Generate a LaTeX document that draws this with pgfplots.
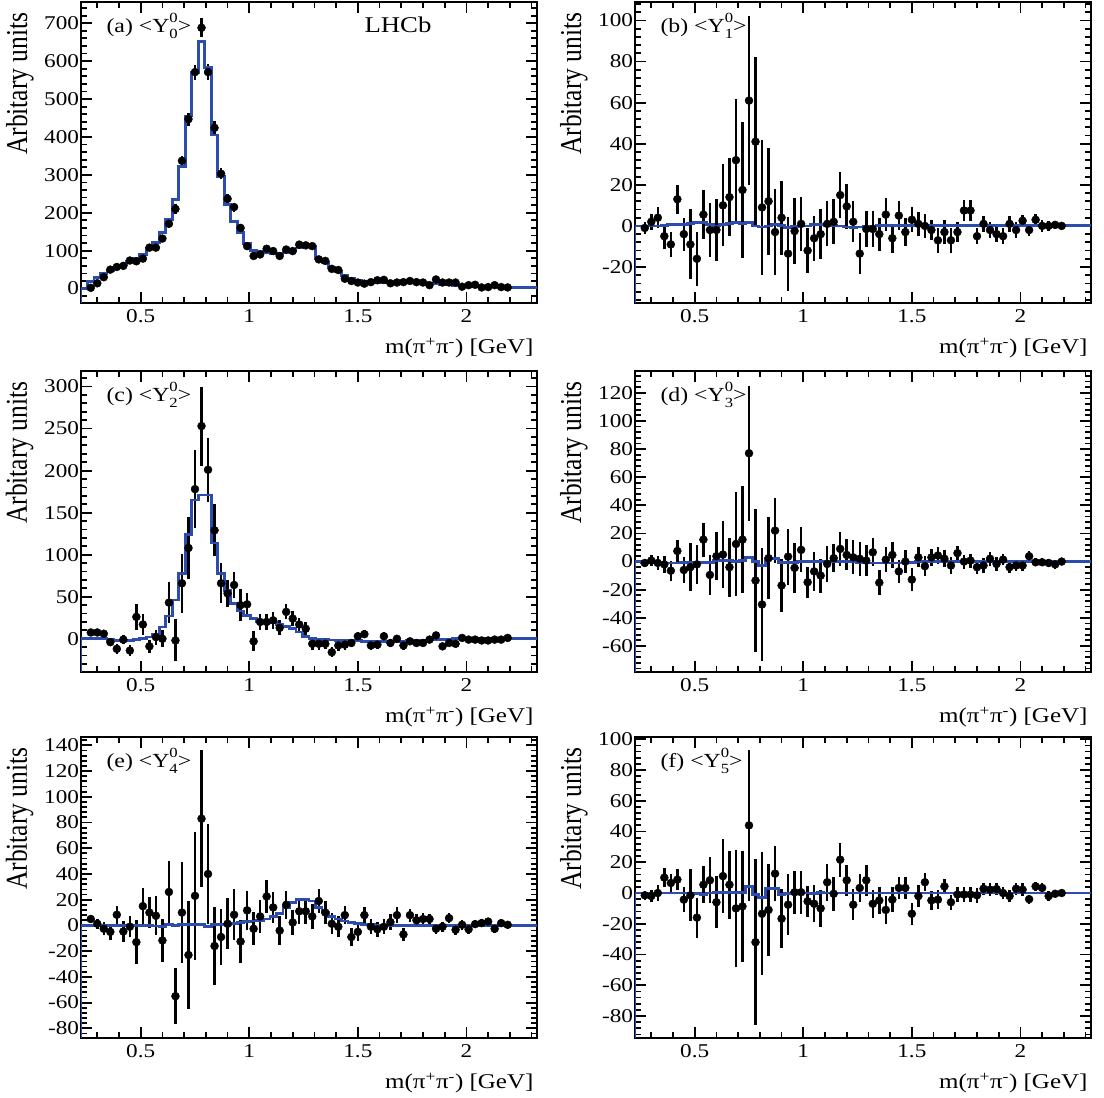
\documentclass[border=0pt]{standalone}
\usepackage{fontspec}
\setmainfont{Liberation Serif}
\usepackage{pgfplots}
\pgfplotsset{compat=1.18}
\usepackage{pgfplotstable}
\definecolor{modelblue}{RGB}{45,76,176}

\newcommand{\Ys}[2]{Y\makebox[0pt][l]{\raisebox{0.5em}{\fontsize{14bp}{14bp}\selectfont #1}}\raisebox{-0.27em}{\fontsize{14bp}{14bp}\selectfont #2}}
\newcommand{\hs}[1]{\scalebox{1.19}[1]{#1}}

\pgfplotstableread{
x ya ea yb eb yc ec yd ed ye ee yf ef
0.27 2 5 -1 3 7.5 3 -1 3 5 3 -1.5 3
0.30 14 6 2 4 7.5 3 0.7 4 1.3 4 -2 4
0.33 30 6 4 5 6 4 -1 5 -2.6 5 0 5
0.36 50 7 -5 6 -4 5 -2 6 -5 6 10 6
0.39 57 7 -9 6 -12 6 -6.5 7 8.3 7 6.5 6
0.42 60 7 13 7 -1 5 7.5 8 -4.7 8 8.7 7
0.45 74 8 -4 8 -14 7 -6 9 -1 8 -4.3 8
0.48 72 8 -9 17 26 15 -4 17 -13 17 -1.5 17
0.51 79 8 -16 13 17 13 -2 14 15 14 -16 13
0.54 108 9 5.5 12 -9 8 15.6 12 10 12 5.4 12
0.57 108 9 -2 13 2 9 -9.5 14 7.5 15 8.3 15
0.60 132 10 -2 15 0 10 3.8 17 -11.7 17 -6 17
0.63 171 11 10 20 43 24 5 24 26 24 11 24
0.66 210 12 14 19 -2 25 -4 21 -55 22 5.4 22
0.69 337 14 32 30 66 35 12.5 37 10 39 -10 38
0.72 447 17 17.5 33 108 37 15.6 38 -23 42 -8.7 36
0.75 571 20 61 41 178 46 77 48 23 50 44 49
0.78 688 25 41 41 253 47 -13.5 51 83 53 -32 54
0.81 571 21 9 33 201 38 -30.5 40 40 39 -13.5 40
0.84 424 17 12 26 129 31 2.4 29 -16 30 -11 30
0.87 303 14 -3 21 66 24 22 23 -9 22 12.6 18
0.90 237 12 4 18 54 16 -17 19 1.3 20 -16.7 19
0.93 215 12 -13.5 18 64 16 3.5 20 8.3 20 -7.6 20
0.96 160 10 -2.5 16 40 19 -4.5 18 -12.5 17 0.5 14
0.99 112 9 1 13 41 14 8.3 16 11.7 15 0.5 14
1.02 86 8 -12 11 -3 12 -14.7 11 -2.6 13 -5.4 10
1.05 90 8 -6 11 20 10 -7 14 7 13 -7 12
1.08 105 8 -4 12 20 10 -10 12 22.5 13 -10 12
1.11 99 8 1 11 22 10 -1.7 13 14 12 7 12
1.14 86 8 2 11 13 9 2.4 10 -4 11 -0.5 11
1.17 103 8 15 11 32 9 9 12 16 11 21.7 11
1.20 99 8 9.5 11 24 9 4.7 11 2.3 10 8.3 10
1.23 116 8 2 10 17 8 3 12 11 10 -7.6 10
1.26 114 8 -13.5 10 12 8 2 12 11 10 3.3 9
1.29 112 8 -1.5 9 -6 7 0.7 11 7 10 8.3 10
1.32 77 7 -1.5 9 -6 7 6.6 10 19 9 -7 9
1.35 73 7 -4 8 -6 6 -15 9 10 9 -4.8 9
1.38 52 6 5.5 8 -16 6 1.4 9 1.3 8 -11 9
1.41 49 6 -6 7 -8 6 4.7 9 -1 8 -4.3 8
1.44 26 6 5 7 -7 6 -7 8 8 7 3.3 7
1.47 20 5 -3 7 -5 5 0 8 -9 7 3.3 7
1.50 16 5 3 6 3 5 -12.8 8 -5 7 -13.5 7
1.53 13 5 1 6 5.5 5 3 7 8 6 -2 7
1.56 17 5 0 6 -8 5 -3.3 7 -1 6 7 6
1.59 22 5 -2 5 -7 5 3 6 -3 6 -4.8 6
1.62 23 5 -7 6 3 5 4.3 6 -1 6 -4.3 6
1.65 14 5 -3 6 -5 5 2 6 2.6 6 4.3 5
1.68 16 5 -7 6 0 5 -2.8 6 8 6 -6 5
1.71 17 5 -3 5 -8 5 6 5 -7 5 -1 5
1.74 20 5 7.5 5 -3 4 0 5 8 5 -1 5
1.77 17 5 7.5 5 -5 4 0.7 5 4 5 -1 5
1.80 16 5 -5 4 -5 4 -4 5 5 5 -1.5 5
1.83 9 5 1 4 -1 4 -2.8 5 5 4 2.8 4
1.86 24 5 -2 4 4 4 2 5 -2.6 4 2.2 4
1.89 16 5 -4 4 -9 4 -1.7 5 -1 4 2.6 4
1.92 16 5 -5 4 -5 3 1.4 4 5.7 4 0 4
1.95 16 5 1 4 -6 3 -4 4 -3.4 4 -2 4
1.98 5 4 -2 4 1 3 -2.8 4 0.5 4 2.8 4
2.01 9 4 2.5 3 -1 3 -2.8 4 -3 4 2.2 4
2.04 10 4 -2 3 -1 3 3.8 4 1 3 -4 3
2.07 3 4 3 3 -2 3 -0.5 3 1.8 3 4.3 3
2.10 4 4 0 3 -2 3 -0.5 3 3 3 3.3 3
2.13 9 4 0 2.5 -1 2 -1 3 -2.6 3 -2 3
2.16 4 3 0.5 2 -1 2 -2 3 1.8 2 -0.5 2
2.19 3 3 0 1.5 1 2 0 2 0.5 2 0 2
}\dataT

\pgfplotstableread{
x ma mb mc md me mf
0.225 -1000 -1000 -1000 -1000 -1000 -1000
0.225 0 0 0 0 0 0
0.255 18 0 0 -1 0 0
0.285 30 0 0 -1 0 0
0.315 40 0 0 -1 0 0
0.345 48 0.3 -1 -1 0 0
0.375 55 0.5 -2 -1 0 0
0.405 62 0.5 -2 -1 0 0
0.435 72 0.7 -2 -0.5 0 0
0.465 80 1 -1 -0.5 0 0
0.495 90 1.5 0 -0.5 0 -0.5
0.525 105 1.5 2 -0.5 0 -1
0.555 122 0.5 5 -0.5 -0.5 0
0.585 147 0 14 0.5 -1 0.5
0.615 182 0.5 27 1 1 0.5
0.645 236 1.2 46 0.5 0 0.5
0.675 322 1.5 78 0 0.5 0.5
0.705 455 1 124 1 0.5 0.5
0.735 571 1.5 165 3 1 4
0.765 652 0 171 0 1 -1
0.795 583 -0.5 171 -3 -1 -3
0.825 405 0 114 2 1 3
0.855 296 0.8 78 2 1 3
0.885 221 0.2 57 -0.5 1 -1
0.915 178 -0.8 42 -0.5 1.5 -0.5
0.945 147 -0.3 33 -0.5 2 0.5
0.975 118 0 28 0 3 0
1.005 100 0 24 0 3.5 0
1.035 98 0.5 21 0 4 -0.5
1.065 96 0.5 20 0 5 0.5
1.095 93 0.3 19 0.3 7 0
1.125 92 0.2 17 0.3 9 0
1.155 95 0 15 0 14 0
1.185 100 -0.5 12 0 18 0
1.215 107 -0.8 8 0 20 0
1.245 112 -0.5 3 -0.5 20 0
1.275 110 -0.3 0 -1 19 0
1.305 78 0 -1 -1 14 0
1.335 68 0.2 -1 -1 10 0
1.365 55 0.3 -1.5 -1 7 0
1.395 45 0.3 -2 -1 5 0
1.425 35 0.2 -2 -1 3.5 0
1.455 27 0.2 -2 -1 2.5 0
1.485 22 0.2 -2.5 -0.5 1.5 0
1.515 18 0.2 -3 0 1 0
1.545 16 0.2 -3 0 0.5 0
1.575 15 0.2 -3 0 0 0
1.605 15 0.2 -3 0 0 0
1.635 15 0.2 -3 0 0 0
1.665 15 0.2 -3 0 0 0
1.695 16 0.2 -3 0 0 0
1.725 17 0.2 -2.5 0 0 0
1.755 17 0.2 -2 0 0 0
1.785 16 0.2 -2 0 0 0
1.815 14 0.2 -1.5 0 0 0
1.845 12 0.2 -1 0 0 0
1.875 11 0.2 -1 0 0 0
1.905 10 0.2 -0.5 0 0 0
1.935 9 0.2 0 0 0 0
1.965 8 0.2 0 0 0 0
1.995 7 0.2 0 0 0 0
2.025 6 0.2 0 0 0 0
2.055 5 0.2 0 0 0 0
2.085 4 0.2 0 0 0 0
2.115 4 0.2 0 0 0 0
2.145 3 0.2 0 0 0 0
2.175 3 0.2 0 0 0 0
2.205 2 0.2 0 0 0 0
2.325 2 0.2 0 0 0 0
}\modelT

\tikzset{plabel/.style={anchor=base west, font=\rmfamily\fontsize{20bp}{24bp}\selectfont}}

\pgfplotsset{
  lhcbstyle/.style={
    scale only axis, width=456bp, height=301bp,
    xmin=0.225, xmax=2.325,
    xtick={0.5,1,1.5,2},
    minor xtick={0.3,0.4,0.6,0.7,0.8,0.9,1.1,1.2,1.3,1.4,1.6,1.7,1.8,1.9,2.1,2.2,2.3},
    axis line style={line width=2.4bp},
    every tick/.style={line width=1.8bp, black},
    major tick length=11bp, minor tick length=6bp,
    tick align=inside,
    /pgf/number format/assume math mode=true,
    tick label style={font=\rmfamily\fontsize{19.5bp}{23bp}\selectfont},
    xticklabel={\hs{\pgfmathprintnumber{\tick}}},
    yticklabel={\hs{\pgfmathprintnumber{\tick}}},
    xticklabel style={yshift=-3bp},
    yticklabel style={xshift=1.5bp},
    xlabel={\hs{m(π\textsuperscript{+}π\textsuperscript{-}) [GeV]}},
    ylabel={\scalebox{1}[1.19]{Arbitary units}},
    xlabel style={font=\rmfamily\fontsize{21bp}{25bp}\selectfont, at={(rel axis cs:1,0)}, anchor=base east, yshift=-51bp},
    ylabel style={font=\rmfamily\fontsize{25.5bp}{30bp}\selectfont, at={([xshift=-54bp,yshift=-7bp]rel axis cs:0,1)}, anchor=base east},
  },
  datastyle/.style={only marks, mark=*, mark size=4bp, black, mark options={fill=black, draw=black},
    error bars/y dir=both, error bars/y explicit, error bars/error mark=none,
    error bars/error bar style={line width=2.5bp, black}},
  modelstyle/.style={const plot, color=modelblue, line width=2.8bp, mark=none},
}

\begin{document}
\begin{tikzpicture}
\path[use as bounding box] (0,0) rectangle (1104bp,1098bp);

% (a)
\begin{axis}[lhcbstyle, at={(81bp,795bp)}, anchor=south west,
  ymin=-38, ymax=756, ytick={0,100,...,700}, minor ytick={-20,0,...,740}]
\addplot[datastyle] table[x=x, y=ya, y error=ea] {\dataT};
\addplot[modelstyle] table[x=x, y=ma] {\modelT};
\node[plabel] at ([xshift=22bp,yshift=-31bp]rel axis cs:0,1) {\hs{(a) <\Ys{0}{0}>}};
\node[anchor=base east, font=\rmfamily\fontsize{22.5bp}{27bp}\selectfont] at ([xshift=-102bp,yshift=-31bp]rel axis cs:1,1) {\hs{LHCb}};
\end{axis}

% (b)
\begin{axis}[lhcbstyle, at={(635bp,795bp)}, anchor=south west,
  ymin=-37.5, ymax=109, ytick={-20,0,...,100}, minor ytick={-36,-32,...,108}]
\addplot[datastyle] table[x=x, y=yb, y error=eb] {\dataT};
\addplot[modelstyle] table[x=x, y=mb] {\modelT};
\node[plabel] at ([xshift=22bp,yshift=-31bp]rel axis cs:0,1) {\hs{(b) <\Ys{0}{1}>}};
\end{axis}

% (c)
\begin{axis}[lhcbstyle, at={(81bp,426bp)}, anchor=south west,
  ymin=-39.5, ymax=318.5, ytick={0,50,...,300}, minor ytick={-30,-20,...,310}]
\addplot[datastyle] table[x=x, y=yc, y error=ec] {\dataT};
\addplot[modelstyle] table[x=x, y=mc] {\modelT};
\node[plabel] at ([xshift=22bp,yshift=-31bp]rel axis cs:0,1) {\hs{(c) <\Ys{0}{2}>}};
\end{axis}

% (d)
\begin{axis}[lhcbstyle, at={(635bp,426bp)}, anchor=south west,
  ymin=-78.5, ymax=135.5, ytick={-60,-40,...,120}, minor ytick={-76,-72,...,132}]
\addplot[datastyle] table[x=x, y=yd, y error=ed] {\dataT};
\addplot[modelstyle] table[x=x, y=md] {\modelT};
\node[plabel] at ([xshift=22bp,yshift=-31bp]rel axis cs:0,1) {\hs{(d) <\Ys{0}{3}>}};
\end{axis}

% (e)
\begin{axis}[lhcbstyle, at={(81bp,60bp)}, anchor=south west,
  ymin=-87.5, ymax=146.5, ytick={-80,-60,...,140}, minor ytick={-84,-80,...,144}]
\addplot[datastyle] table[x=x, y=ye, y error=ee] {\dataT};
\addplot[modelstyle] table[x=x, y=me] {\modelT};
\node[plabel] at ([xshift=22bp,yshift=-31bp]rel axis cs:0,1) {\hs{(e) <\Ys{0}{4}>}};
\end{axis}

% (f)
\begin{axis}[lhcbstyle, at={(635bp,60bp)}, anchor=south west,
  ymin=-94.3, ymax=101.5, ytick={-80,-60,...,100}, minor ytick={-92,-88,...,100}]
\addplot[datastyle] table[x=x, y=yf, y error=ef] {\dataT};
\addplot[modelstyle] table[x=x, y=mf] {\modelT};
\node[plabel] at ([xshift=22bp,yshift=-31bp]rel axis cs:0,1) {\hs{(f) <\Ys{0}{5}>}};
\end{axis}
\end{tikzpicture}
\end{document}
